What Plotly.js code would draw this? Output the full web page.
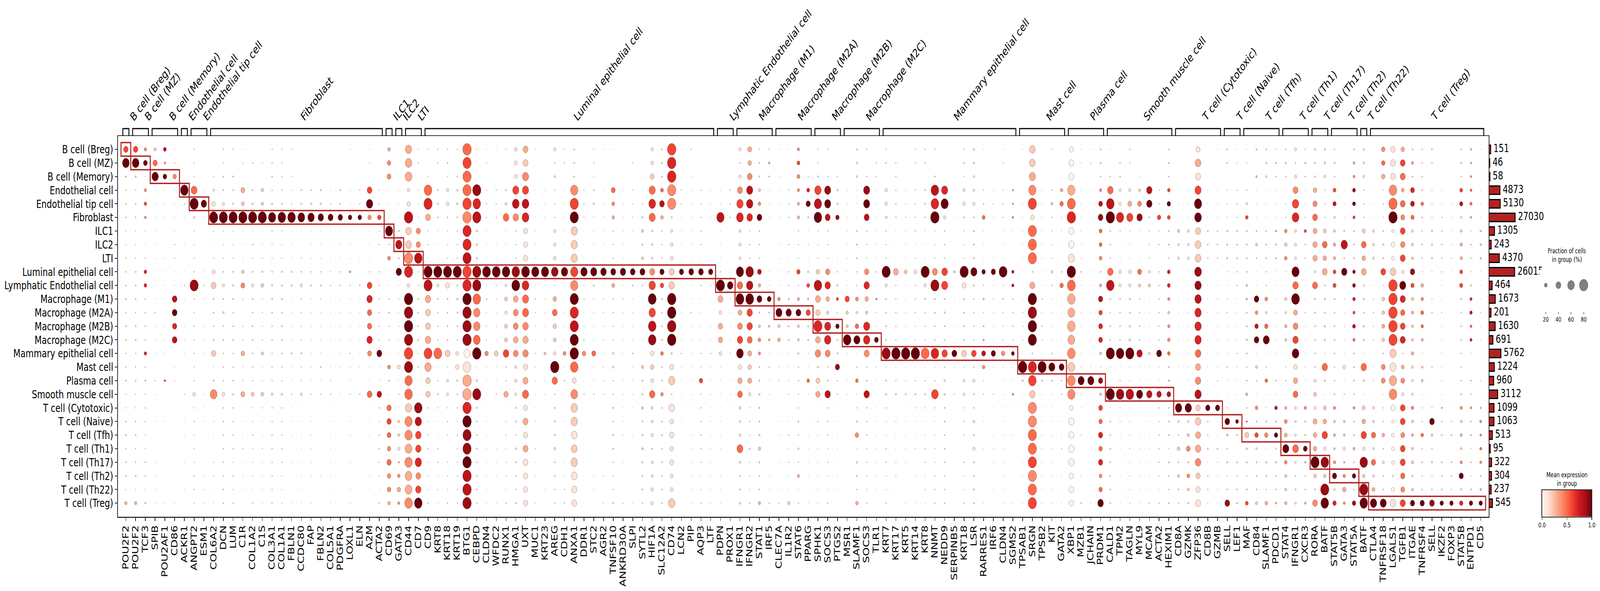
<!DOCTYPE html>
<html>
<head>
<meta charset="utf-8">
<script src="https://cdn.plot.ly/plotly-3.0.1.min.js"></script>
<style>html,body{margin:0;background:#fff;overflow:hidden}</style>
</head>
<body>
<div id="dotplot" style="width:5578px;height:1512px"></div>
<script>
const rowLabels = ["B cell (Breg)","B cell (MZ)","B cell (Memory)","Endothelial cell","Endothelial tip cell","Fibroblast","ILC1","ILC2","LTI","Luminal epithelial cell","Lymphatic Endothelial cell","Macrophage (M1)","Macrophage (M2A)","Macrophage (M2B)","Macrophage (M2C)","Mammary epithelial cell","Mast cell","Plasma cell","Smooth muscle cell","T cell (Cytotoxic)","T cell (Naive)","T cell (Tfh)","T cell (Th1)","T cell (Th17)","T cell (Th2)","T cell (Th22)","T cell (Treg)"];
const cellTotals = [151,46,58,4873,5130,27030,1305,243,4370,26015,464,1673,201,1630,691,5762,1224,960,3112,1099,1063,513,95,322,304,237,545];
// how many marker genes each cell type has, same order as rowLabels
const groupSizes = [1,2,3,1,2,18,1,1,2,30,2,4,4,3,4,14,5,4,7,5,2,4,3,2,3,1,12];
const genes = ["POU2F2","POU2F2","TCF3","SPIB","POU2AF1","CD86","ACKR1","ANGPT2","ESM1","COL6A2","DCN","LUM","C1R","COL1A2","C1S","COL3A1","COL1A1","FBLN1","CCDC80","FAP","FBLN2","COL5A1","PDGFRA","LOXL1","ELN","A2M","ACTA2","CD69","GATA3","CD44","CD7","CD9","KRT8","KRT18","KRT19","BTG1","CEBPD","CLDN4","WFDC2","RUNX1","HMGA1","UXT","MUC1","KRT23","AREG","CDH1","ANXA1","DDR1","STC2","AGR2","TNFSF10","ANKRD30A","SLPI","SYTL2","HIF1A","SLC12A2","CD74","LCN2","PIP","AQP3","LTF","PDPN","PROX1","IFNGR1","IFNGR2","STAT1","IRF5","CLEC7A","IL1R2","STAT6","PPARG","SPHK1","SOCS3","PTGS2","MSR1","SLAMF1","SOCS3","TLR1","KRT7","KRT17","KRT5","KRT14","KRT8","NNMT","NEDD9","SERPINB5","KRT18","LSR","RARRES1","IRF6","CLDN4","SGMS2","TPSAB1","SRGN","TPSB2","KIT","GATA2","XBP1","MZB1","JCHAIN","PRDM1","CALD1","TPM2","TAGLN","MYL9","MCAM","ACTA2","HEXIM1","CD8A","GZMK","ZFP36","CD8B","GZMB","SELL","LEF1","MAF","CD84","SLAMF1","PDCD1","STAT4","IFNGR1","CXCR3","RORA","BATF","STAT5B","GATA3","STAT5A","BATF","CTLA4","TNFRSF18","LGALS1","TGFB1","ITGAE","TNFRSF4","SELL","IKZF2","FOXP3","STAT5B","ENTPD1","CD5"];

// percent of cells expressing, one array per distinct gene (first-seen order), 27 rows each
const fractions = [
[35,60,6,3,4,4,2,2,3,4,4,5,3,5,5,3,3,5,2,2,4,5,3,4,5,2,14], //POU2F2
[16,29,1,14,16,11,2,1,3,18,18,4,4,4,4,16,3,5,3,3,3,2,2,4,4,2,6], //TCF3
[14,33,56,1,1,1,1,1,1,1,1,1,3,1,1,1,0,3,1,0,1,0,0,1,1,1,1], //SPIB
[20,9,27,1,1,1,0,0,1,1,1,1,0,1,1,1,0,9,0,0,1,0,0,0,0,0,1], //POU2AF1
[1,3,25,1,1,1,1,3,2,1,1,38,38,33,38,0,1,2,0,0,0,0,0,0,0,0,1], //CD86
[0,0,0,70,3,1,0,1,0,1,3,1,0,1,1,1,0,0,2,0,1,1,0,1,0,1,0], //ACKR1
[3,2,2,50,77,8,2,2,2,3,77,3,2,3,3,3,2,3,18,2,3,2,2,2,3,3,2], //ANGPT2
[0,0,0,1,45,1,0,0,0,1,3,1,0,1,1,1,0,0,1,1,1,0,0,0,1,2,1], //ESM1
[0,0,2,9,25,77,2,1,2,20,38,5,5,4,5,33,1,5,60,1,2,1,0,2,2,1,1], //COL6A2
[3,2,5,5,14,77,2,2,2,4,14,5,8,4,5,3,3,3,18,3,4,3,3,3,3,4,4], //DCN
[3,0,5,4,6,77,2,2,2,5,7,5,3,5,5,3,3,4,7,3,3,3,3,2,4,2,3], //LUM
[1,2,0,29,20,77,1,1,1,16,29,2,0,2,2,25,1,2,29,1,1,1,2,1,1,1,0], //C1R
[0,4,0,5,8,77,2,4,2,5,14,5,4,5,5,4,3,3,20,2,2,4,2,2,2,1,3], //COL1A2
[0,2,0,16,14,77,1,1,2,7,18,2,2,2,3,14,1,2,18,2,1,1,2,1,1,1,1], //C1S
[3,3,6,3,7,66,3,2,2,4,6,6,5,4,4,3,3,3,11,3,3,3,3,3,3,3,3], //COL3A1
[3,3,3,3,4,70,2,2,2,6,6,6,4,5,5,4,3,3,9,3,3,3,3,3,2,2,2], //COL1A1
[2,0,2,2,3,70,1,1,1,6,7,1,1,1,1,6,1,1,3,1,1,1,0,1,0,0,1], //FBLN1
[0,0,0,5,6,60,1,0,2,4,14,3,2,2,2,6,2,2,12,1,1,1,1,1,1,1,1], //CCDC80
[0,0,0,4,8,56,1,1,1,3,5,1,1,1,1,1,1,1,3,0,1,1,1,1,1,0,1], //FAP
[0,0,0,6,8,45,1,1,1,3,5,2,1,1,1,2,5,1,3,0,0,0,0,0,1,0,0], //FBLN2
[0,0,0,1,3,40,1,1,1,2,3,1,1,1,1,1,1,2,3,1,1,1,1,1,1,1,1], //COL5A1
[0,0,0,6,4,35,1,1,1,3,4,1,1,1,1,2,1,0,1,0,0,0,0,0,0,0,0], //PDGFRA
[1,0,0,1,1,26,1,1,1,10,3,1,1,1,1,3,1,1,2,0,1,1,0,1,0,1,1], //LOXL1
[0,0,0,3,3,26,0,0,1,1,4,1,1,1,1,1,1,0,3,0,0,0,0,0,0,0,0], //ELN
[1,2,0,38,56,25,1,1,1,3,38,45,33,33,45,29,1,1,38,1,1,1,0,0,1,1,0], //A2M
[0,0,0,2,3,25,2,3,0,3,3,3,3,3,3,40,1,1,36,3,2,3,3,3,2,1,3], //ACTA2
[18,25,29,1,1,1,66,3,20,1,1,3,5,3,3,1,20,5,1,33,33,29,25,33,25,25,16], //CD69
[0,0,0,1,1,1,7,56,5,45,1,2,1,2,1,1,20,1,3,1,11,11,14,7,16,25,12], //GATA3
[53,56,60,16,23,80,45,47,77,77,16,80,80,80,77,80,77,66,70,53,66,66,60,66,60,60,70], //CD44
[2,3,0,2,2,2,33,33,70,2,2,5,5,4,5,2,4,1,1,70,56,47,45,56,38,45,70], //CD7
[2,0,2,70,77,38,2,3,1,77,77,45,38,38,45,73,56,33,33,3,2,2,3,2,2,2,4], //CD9
[3,3,0,5,6,4,1,1,1,77,14,5,3,3,3,73,1,3,5,2,1,1,3,3,1,2,1], //KRT8
[3,5,2,14,18,5,2,2,2,77,29,6,5,5,5,38,2,12,12,2,3,2,0,3,2,2,3], //KRT18
[3,0,4,8,9,5,3,3,3,77,5,8,5,4,4,20,25,8,4,3,2,3,2,2,2,3,3], //KRT19
[80,77,77,77,80,80,77,77,77,80,80,80,80,80,80,53,70,80,80,80,80,77,77,80,80,80,80], //BTG1
[2,0,0,77,70,77,9,9,9,77,77,70,56,56,60,80,1,9,77,6,4,4,6,4,4,5,3], //CEBPD
[1,2,0,2,3,3,1,1,1,73,2,4,2,2,2,25,1,1,1,1,1,1,1,1,1,1,1], //CLDN4
[1,0,0,3,3,3,0,1,1,73,3,2,1,2,1,28,1,1,3,0,0,0,1,1,1,0,1], //WFDC2
[2,0,0,5,12,47,1,1,1,70,11,20,14,20,20,47,3,3,33,1,2,2,1,2,2,1,3], //RUNX1
[18,20,20,53,60,45,3,3,3,70,73,38,38,38,38,38,12,16,12,6,5,4,7,5,4,3,6], //HMGA1
[40,40,53,53,60,60,29,29,33,73,60,53,53,47,45,45,33,40,53,29,40,33,40,38,33,33,33], //UXT
[1,0,0,1,1,1,1,1,1,66,1,3,2,1,1,3,1,1,1,1,1,0,2,1,1,0,1], //MUC1
[0,0,0,1,1,1,0,0,0,66,1,1,1,1,1,12,0,1,1,0,0,0,0,0,0,1,0], //KRT23
[14,3,8,3,3,3,14,14,18,60,2,25,38,25,20,16,80,45,3,5,5,5,12,5,5,4,3], //AREG
[2,3,0,1,1,1,1,1,1,56,1,1,1,1,1,20,1,4,1,1,1,1,0,1,1,3,3], //CDH1
[5,5,5,66,77,77,53,53,53,66,66,77,77,77,77,80,70,29,60,55,55,48,48,55,48,42,38], //ANXA1
[1,0,0,2,3,2,1,1,1,56,2,3,1,2,3,25,0,1,3,0,0,0,0,1,0,0,0], //DDR1
[2,3,1,4,8,2,1,1,1,53,6,2,1,1,1,29,1,1,3,0,0,0,0,0,1,1,0], //STC2
[1,0,0,1,1,2,1,1,1,47,1,2,2,2,2,2,2,2,2,0,0,0,0,0,2,0,2], //AGR2
[1,0,0,29,20,16,3,3,3,40,20,3,4,3,3,9,9,3,3,6,4,6,5,4,3,3,5], //TNFSF10
[0,0,0,1,1,1,1,1,1,45,1,2,1,1,1,1,0,1,1,1,1,1,0,1,0,0,2], //ANKRD30A
[0,2,0,2,2,2,1,0,0,38,4,1,1,1,1,4,1,1,1,1,0,1,0,0,0,0,1], //SLPI
[0,0,1,1,3,7,12,7,12,40,4,1,1,1,1,1,14,6,6,11,5,6,9,6,5,5,4], //SYTL2
[14,18,29,53,60,53,8,8,8,40,56,73,56,70,70,25,25,20,45,12,12,16,6,12,12,16,16], //HIF1A
[5,6,5,20,38,18,3,3,3,33,25,6,4,5,6,18,4,4,18,4,4,5,4,4,3,4,4], //SLC12A2
[80,80,80,77,77,7,12,18,20,40,45,80,80,80,80,8,29,53,4,45,25,33,25,29,20,20,56], //CD74
[1,0,0,3,3,1,1,1,1,33,1,1,1,1,1,3,1,1,1,1,1,0,0,0,0,0,0], //LCN2
[3,0,1,1,1,1,1,1,1,38,1,1,3,1,1,1,1,1,1,1,0,1,1,1,1,1,1], //PIP
[0,0,0,3,3,3,3,3,1,38,3,1,1,1,1,3,2,25,2,3,3,3,3,3,1,2,3], //AQP3
[0,0,0,1,1,1,0,0,0,33,2,0,0,1,1,3,1,1,1,1,1,1,1,1,1,1,1], //LTF
[0,0,0,1,1,66,1,1,1,3,77,40,16,33,33,18,1,1,1,1,1,1,1,0,1,1,1], //PDPN
[0,0,0,3,3,3,0,0,0,1,47,1,1,1,1,2,0,1,1,1,0,0,0,0,0,0,0], //PROX1
[14,4,14,40,56,60,12,14,12,66,45,73,29,38,45,60,25,33,38,12,9,10,50,9,5,6,9], //IFNGR1
[29,25,38,53,56,47,2,4,3,70,56,73,45,45,40,29,25,29,14,2,3,2,6,2,2,2,4], //IFNGR2
[3,5,5,14,18,38,4,4,3,29,16,40,6,12,18,14,5,6,8,7,5,7,16,6,4,4,14], //STAT1
[3,9,5,1,1,1,0,0,0,1,1,29,6,8,9,1,3,1,1,0,0,0,0,0,1,1,3], //IRF5
[1,0,1,1,1,1,0,1,1,1,1,18,53,14,18,1,1,2,0,0,1,1,0,1,0,1,2], //CLEC7A
[1,0,0,3,3,3,0,3,1,3,3,8,45,7,6,1,1,2,2,0,1,3,1,3,1,1,14], //IL1R2
[14,20,20,14,14,14,3,3,2,25,3,14,40,12,11,8,3,4,3,3,5,3,7,3,14,2,3], //STAT6
[0,0,2,20,33,6,1,2,1,7,20,9,33,6,6,2,1,18,1,1,1,1,1,1,1,1,1], //PPARG
[3,3,6,56,66,70,2,2,2,25,70,40,33,77,38,45,8,29,33,1,3,1,1,1,1,1,1], //SPHK1
[3,0,4,53,53,40,3,3,2,33,45,25,14,53,56,40,3,5,45,3,4,4,2,3,2,2,4], //SOCS3
[0,0,3,7,7,25,0,0,1,3,6,14,3,25,5,6,33,3,4,1,1,1,1,1,1,1,0], //PTGS2
[0,0,0,1,1,1,1,1,1,1,1,33,14,14,70,1,0,1,1,0,0,0,0,0,0,0,0], //MSR1
[5,8,8,1,1,1,5,5,5,3,3,20,11,25,53,1,3,18,1,2,6,25,1,8,6,3,18], //SLAMF1
[0,3,3,1,1,1,1,1,1,4,1,8,2,2,29,1,2,1,0,1,1,1,1,1,1,1,0], //TLR1
[3,4,0,16,16,12,3,3,3,77,14,5,4,5,5,77,1,5,8,3,2,1,3,3,2,2,3], //KRT7
[0,3,3,3,4,4,1,1,1,38,3,3,3,3,3,80,1,3,7,1,2,1,1,2,2,1,0], //KRT17
[0,0,0,1,2,3,1,1,1,20,1,1,1,1,1,80,1,2,5,1,1,1,1,1,0,0,1], //KRT5
[2,3,0,3,3,3,3,1,2,20,3,3,3,2,2,80,1,3,6,2,1,1,2,0,1,0,1], //KRT14
[3,0,5,70,70,80,2,2,2,40,77,6,5,4,4,70,1,3,60,2,1,1,2,2,3,3,3], //NNMT
[0,0,0,53,66,14,3,3,3,47,53,5,7,5,4,45,3,8,8,5,5,4,5,4,3,3,4], //NEDD9
[0,0,0,1,0,1,0,0,0,9,0,1,0,1,0,40,1,0,2,0,0,0,0,0,0,0,0], //SERPINB5
[8,8,8,9,14,5,6,6,6,53,6,3,3,3,3,38,3,14,5,4,12,6,14,6,5,7,6], //LSR
[1,0,0,3,4,20,1,1,1,25,3,8,2,5,8,29,18,2,3,0,1,0,1,0,0,0,1], //RARRES1
[0,0,0,1,2,1,0,0,1,33,1,2,1,1,1,33,1,0,2,1,0,1,1,1,0,1,0], //IRF6
[0,0,0,7,7,8,1,0,0,14,14,3,3,4,3,20,1,1,8,1,0,1,0,0,0,0,1], //SGMS2
[1,0,0,0,1,1,1,1,1,1,0,1,2,2,2,1,80,8,1,1,0,0,0,1,1,0,1], //TPSAB1
[47,47,53,66,77,25,77,77,77,5,40,80,80,80,77,4,77,70,45,77,77,77,77,77,77,77,77], //SRGN
[0,0,0,1,1,1,1,1,1,1,1,3,1,3,2,1,77,6,1,1,1,1,1,1,1,1,1], //TPSB2
[2,0,0,3,12,3,2,2,2,12,4,1,1,1,1,4,53,6,1,1,1,1,1,1,1,1,1], //KIT
[0,0,0,18,25,2,1,1,1,4,25,1,1,1,1,1,40,4,3,0,1,1,2,0,1,1,1], //GATA2
[29,38,40,66,73,80,40,45,53,80,73,70,60,70,60,70,60,70,66,25,45,40,45,45,33,38,33], //XBP1
[1,1,0,1,1,1,1,1,1,4,1,0,1,1,0,1,1,53,1,1,0,2,0,0,1,0,4], //MZB1
[1,2,0,1,1,1,0,0,0,1,1,0,1,1,1,1,1,53,1,0,0,0,0,0,0,0,1], //JCHAIN
[6,6,4,14,29,38,20,20,20,5,14,33,25,29,29,12,2,33,12,29,25,33,25,33,20,25,47], //PRDM1
[1,0,4,47,70,80,4,4,4,45,70,5,3,4,4,77,1,1,77,1,5,4,6,4,4,4,4], //CALD1
[0,4,5,12,18,66,2,1,1,18,14,5,4,5,4,70,1,3,70,3,2,1,1,1,1,1,1], //TPM2
[4,3,0,14,29,53,2,1,1,18,14,8,5,8,12,77,1,2,70,2,2,2,2,1,2,2,2], //TAGLN
[0,0,1,12,29,45,1,0,1,29,14,4,3,4,4,45,1,1,53,1,0,1,1,1,1,1,1], //MYL9
[0,0,0,45,45,5,2,2,2,12,14,1,1,1,1,12,1,1,45,1,1,1,1,1,1,1,3], //MCAM
[4,6,4,18,25,20,5,5,4,20,20,14,12,14,18,18,6,7,29,5,4,5,2,6,4,3,5], //HEXIM1
[0,0,0,1,1,1,14,9,12,1,0,1,1,1,1,1,1,1,0,56,9,4,18,5,12,5,3], //CD8A
[0,0,0,1,1,1,12,9,12,1,1,1,1,1,1,1,1,1,1,56,9,14,29,6,20,12,6], //GZMK
[29,47,40,53,66,60,40,48,48,60,56,56,56,56,56,47,40,45,56,33,45,40,45,47,33,33,40], //ZFP36
[0,0,0,1,1,1,5,4,4,1,1,1,2,1,1,1,1,1,1,33,4,3,6,2,3,3,2], //CD8B
[1,0,0,1,1,1,4,4,4,1,1,2,1,1,1,1,1,3,1,33,1,1,6,2,1,2,1], //GZMB
[5,4,0,2,2,2,7,7,7,2,1,2,3,1,1,1,3,1,1,3,38,9,3,6,2,5,38], //SELL
[1,2,0,3,4,3,5,5,5,3,3,1,1,1,1,3,1,1,1,1,20,5,0,5,3,5,6], //LEF1
[1,2,0,3,8,18,6,6,5,5,8,8,5,6,7,5,3,5,12,4,5,29,8,6,3,6,20], //MAF
[7,0,8,1,1,1,6,12,5,1,1,38,18,25,38,1,12,4,1,18,5,25,8,6,5,5,14], //CD84
[2,5,4,1,1,1,8,6,6,1,1,1,1,1,1,1,0,4,1,18,5,25,4,6,4,4,8], //PDCD1
[4,8,4,1,2,3,18,16,18,2,1,14,9,14,12,1,2,4,1,14,20,20,53,18,14,12,14], //STAT4
[3,7,5,1,1,3,14,4,4,1,1,1,3,1,1,1,2,1,1,14,6,6,29,8,4,4,9], //CXCR3
[8,6,6,25,33,38,29,33,33,9,40,6,6,5,5,4,4,14,20,14,29,25,25,77,18,6,38], //RORA
[8,9,12,3,3,3,20,38,25,38,5,8,5,8,7,2,45,8,1,20,25,45,16,70,16,77,70], //BATF
[4,8,4,20,23,9,11,16,14,20,22,6,4,5,5,4,3,4,5,14,11,12,9,14,33,9,25], //STAT5B
[6,12,12,20,20,14,5,4,5,18,20,18,14,20,14,5,5,4,4,12,5,5,12,5,25,4,25], //STAT5A
[0,0,0,1,1,1,12,12,12,1,1,2,3,2,2,1,1,2,1,12,12,33,10,33,12,20,56], //CTLA4
[25,25,25,2,3,2,5,7,5,38,2,18,18,20,18,4,29,29,1,2,3,18,4,12,4,4,53], //TNFRSF18
[33,40,38,70,77,80,14,25,18,47,80,80,80,80,77,53,53,66,70,33,14,18,20,18,9,20,47], //LGALS1
[25,38,40,20,38,29,38,33,40,14,53,42,33,38,42,4,20,29,14,38,38,29,38,40,33,29,42], //TGFB1
[5,14,5,29,29,23,12,12,12,35,23,14,14,12,12,16,12,10,10,16,12,12,12,14,7,12,33], //ITGAE
[4,4,4,5,18,5,3,4,4,2,18,16,20,16,12,2,10,12,1,2,3,18,3,6,3,4,33], //TNFRSF4
[0,0,0,1,1,3,4,4,4,3,1,1,2,1,1,2,1,2,1,6,4,5,0,6,4,5,25], //IKZF2
[0,0,0,0,1,1,1,2,2,1,0,0,0,0,0,0,0,0,0,1,3,5,0,5,4,3,25], //FOXP3
[8,8,9,12,14,9,2,5,4,2,6,14,16,12,14,2,0,5,4,9,4,6,2,5,2,6,25], //ENTPD1
[1,0,0,1,1,1,8,8,8,1,1,1,2,1,1,0,0,2,0,8,12,10,12,12,5,9,25] //CD5
];

// mean expression x10 as row,value pairs for each distinct gene, rows not listed are pale (1)
const means = [
[0,6,1,10,2,2,26,3], //POU2F2
[0,4,1,10,3,4,4,6,5,4,9,7,10,7,15,7,17,2,26,2], //TCF3
[0,2,1,5,2,10], //SPIB
[0,8,1,4,2,10,17,6], //POU2AF1
[2,4,11,8,12,10,13,7,14,8], //CD86
[3,10], //ACKR1
[3,5,4,10,10,9], //ANGPT2
[4,10], //ESM1
[5,10,10,2,15,2,18,4], //COL6A2
[5,10], //DCN
[5,10], //LUM
[3,3,4,2,5,10,9,2,10,4,15,3,18,3], //C1R
[5,10,18,2], //COL1A2
[3,2,4,2,5,10,10,2,15,2,18,2], //C1S
[5,10], //COL3A1
[5,10], //COL1A1
[5,10], //FBLN1
[5,10], //CCDC80
[5,10], //FAP
[5,10], //FBLN2
[5,10], //COL5A1
[5,10], //PDGFRA
[5,10,9,3], //LOXL1
[5,10], //ELN
[3,6,4,10,5,4,10,6,11,7,12,5,13,5,14,7,15,4,18,5], //A2M
[5,6,15,10,18,8], //ACTA2
[0,3,1,4,2,4,6,10,8,4,16,4,19,5,20,6,21,5,22,4,23,5,24,4,25,4,26,3], //CD69
[7,8,9,10,15,4,19,2,20,2,21,2,23,3,24,4,25,3,26,4], //GATA3
[0,3,1,3,2,3,3,1,4,1,5,8,6,2,7,2,8,4,9,7,10,1,11,10,12,9,13,10,14,9,15,6,16,9,17,5,18,5,19,2,20,4,21,4,22,3,23,4,24,3,25,3,26,4], //CD44
[6,4,7,4,8,8,19,9,20,8,21,6,22,6,23,7,24,4,25,6,26,10], //CD7
[3,5,4,7,5,3,9,10,10,8,11,3,12,2,13,2,14,3,15,6,16,3,17,2,18,2], //CD9
[9,10,15,5], //KRT8
[9,10,15,2], //KRT18
[9,10], //KRT19
[0,5,1,6,2,5,3,5,4,6,5,4,6,7,7,7,8,8,9,6,10,7,11,10,12,9,13,9,14,9,15,0,17,3,18,3,19,7,20,10,21,9,22,9,23,10,24,8,25,8,26,9], //BTG1
[3,9,4,7,5,8,9,9,10,9,11,5,12,4,13,4,14,5,15,10,18,9], //CEBPD
[9,10,15,4], //CLDN4
[9,10,15,2], //WFDC2
[5,5,9,10,11,2,13,2,14,2,15,6,18,3], //RUNX1
[3,6,4,8,5,4,9,9,10,10,11,3,12,4,13,4,14,3,15,4], //HMGA1
[0,3,1,2,2,4,3,6,4,8,5,7,9,10,10,7,11,5,12,5,13,4,14,3,15,4,17,3,18,5,20,3,22,3], //UXT
[9,10], //MUC1
[9,10,15,2], //KRT23
[9,9,11,3,12,5,13,2,14,2,16,10,17,5], //AREG
[9,10,15,4], //CDH1
[3,4,4,6,5,10,6,2,7,2,8,2,9,6,10,4,11,10,12,7,13,8,14,10,15,10,16,5,18,4,19,2,20,2,22,2,23,2], //ANXA1
[9,10,15,4], //DDR1
[9,10,15,5], //STC2
[9,10], //AGR2
[3,5,4,4,5,3,9,10,10,3], //TNFSF10
[9,10], //ANKRD30A
[9,10], //SLPI
[6,2,8,2,9,10,16,2,19,2,22,2], //SYTL2
[2,2,3,5,4,7,5,5,9,4,10,6,11,10,12,6,13,8,14,9,16,2,18,5], //HIF1A
[3,5,4,8,5,3,9,10,10,6,15,5,18,4], //SLC12A2
[0,6,1,7,2,7,3,4,4,4,9,2,10,2,11,10,12,10,13,9,14,10,17,2,26,2], //CD74
[9,10], //LCN2
[9,10], //PIP
[9,10,17,6], //AQP3
[9,10], //LTF
[5,8,10,10,11,3,13,3,14,3], //PDPN
[10,10], //PROX1
[3,4,4,6,5,7,9,10,10,5,11,10,12,3,13,4,14,6,15,10,17,3,18,5,22,5], //IFNGR1
[0,3,1,3,2,4,3,8,4,8,5,7,9,9,10,8,11,10,12,6,13,6,14,5,15,3,16,2,17,3], //IFNGR2
[3,2,4,4,5,10,9,8,10,3,11,10,13,2,14,4,15,4,22,2,26,3], //STAT1
[1,3,11,10,13,3,14,3], //IRF5
[11,4,12,10,13,2,14,3], //CLEC7A
[12,10,26,2], //IL1R2
[0,4,1,6,2,4,3,4,4,3,5,3,9,6,11,3,12,10,13,2,14,2,24,3], //STAT6
[3,7,4,10,10,6,11,2,12,6,17,5], //PPARG
[3,6,4,8,5,10,9,2,10,8,11,3,12,2,13,7,14,3,15,4,17,2,18,3], //SPHK1
[3,9,4,10,5,8,9,4,10,7,11,3,12,2,13,7,14,7,15,4,18,8], //SOCS3
[3,2,5,9,10,2,11,6,13,10,16,9], //PTGS2
[11,6,12,2,13,2,14,10], //MSR1
[11,4,13,5,14,10,17,5,21,4,26,3], //SLAMF1
[11,4,14,10], //TLR1
[9,10,15,9], //KRT7
[9,3,15,10], //KRT17
[9,2,15,10], //KRT5
[15,10], //KRT14
[3,8,4,7,5,10,9,4,10,9,15,7,18,6], //NNMT
[3,7,4,10,9,6,10,6,15,6], //NEDD9
[9,2,15,10], //SERPINB5
[9,10,15,6], //LSR
[5,5,9,10,11,2,13,2,14,3,15,8,16,4], //RARRES1
[9,10,15,10], //IRF6
[3,4,4,4,5,5,9,8,10,8,15,10,18,5], //SGMS2
[16,10], //TPSAB1
[0,2,1,2,2,3,3,4,4,6,6,5,7,5,8,5,10,3,11,10,12,9,13,10,14,10,16,7,17,6,18,2,19,4,20,4,21,5,22,5,23,6,24,4,25,5,26,6], //SRGN
[16,10], //TPSB2
[4,2,16,10], //KIT
[3,3,4,5,10,5,16,10], //GATA2
[0,0,1,0,2,0,3,3,4,5,5,7,6,0,7,0,9,10,10,5,11,3,12,3,13,3,14,3,15,4,16,2,17,4,18,4,19,0,20,0,21,0,22,0,23,0,24,0,25,0,26,0], //XBP1
[17,10], //MZB1
[17,10], //JCHAIN
[3,4,4,8,5,9,6,5,7,5,8,4,10,3,11,8,12,6,13,7,14,7,15,2,17,9,18,2,19,6,20,5,21,7,22,5,23,7,24,4,25,5,26,10], //PRDM1
[3,5,4,8,5,10,9,5,10,8,15,10,18,10], //CALD1
[5,7,15,10,18,9], //TPM2
[4,3,5,6,15,10,18,8], //TAGLN
[3,2,4,4,5,9,9,5,10,2,15,8,18,10], //MYL9
[3,8,4,10,10,2,18,8], //MCAM
[3,6,4,10,5,6,9,7,10,7,11,4,12,2,13,4,14,4,15,5,17,2,18,8], //HEXIM1
[6,2,19,10,22,2,24,2], //CD8A
[19,10,21,2,22,4,24,4,25,2], //GZMK
[1,3,3,6,4,10,5,10,6,2,7,2,8,2,9,9,10,9,11,8,12,7,13,7,14,7,15,5,16,3,17,4,18,8,19,2,20,2,21,3,22,3,23,4,24,2], //ZFP36
[19,10], //CD8B
[19,10], //GZMB
[20,10,21,2,23,2,26,9], //SELL
[20,10,23,2,26,2], //LEF1
[4,2,5,6,10,3,11,3,14,2,18,3,20,10,21,2,22,2,26,6], //MAF
[2,3,7,2,11,10,12,4,13,8,14,10,16,2,19,4,21,6,26,2], //CD84
[1,2,6,3,7,2,8,2,19,8,20,2,21,10,23,2,26,3], //PDCD1
[6,4,7,2,8,4,11,2,13,3,14,2,19,3,20,4,21,3,22,10,23,4,24,2,25,2,26,3], //STAT4
[1,2,6,6,19,4,22,10,23,2,26,3], //CXCR3
[3,3,4,4,5,5,6,3,7,3,8,3,10,5,18,2,20,3,21,3,22,3,23,10,24,2,26,4], //RORA
[6,2,7,5,8,3,9,3,16,5,19,2,20,3,21,6,23,9,24,2,25,9,26,10], //BATF
[3,6,4,8,6,2,7,3,8,3,9,6,10,6,19,4,20,2,21,3,22,2,23,4,24,10,26,7], //STAT5B
[1,3,2,4,3,9,4,10,5,6,9,9,10,9,11,7,12,6,13,8,14,5,19,4,22,3,24,10,26,9], //STAT5A
[21,5,23,5,25,3,26,10], //CTLA4
[0,4,1,5,2,3,9,6,11,2,12,2,13,3,14,2,16,4,17,4,21,3,26,10], //TNFRSF18
[3,4,4,5,5,10,6,0,7,0,8,0,9,2,10,6,11,6,12,6,13,6,14,6,15,2,17,3,18,4,19,0,20,0,21,0,22,0,23,0,24,0,25,0], //LGALS1
[0,3,1,6,2,5,3,3,4,5,5,4,6,6,7,4,8,6,10,10,11,7,12,5,13,6,14,7,16,3,17,4,19,6,20,6,21,4,22,6,23,6,24,5,25,4,26,6], //TGFB1
[1,3,3,7,4,8,5,5,7,2,8,2,9,9,10,6,11,2,12,3,13,2,14,2,15,3,19,4,20,2,21,3,22,2,23,2,25,2,26,10], //ITGAE
[4,5,10,3,11,4,12,5,13,5,14,3,16,2,17,2,21,5,26,10], //TNFRSF4
[19,3,26,10], //IKZF2
[26,10], //FOXP3
[0,3,1,3,2,4,3,5,4,5,5,3,10,2,11,7,12,8,13,5,14,7,19,4,21,2,26,10], //ENTPD1
[6,2,7,2,8,2,19,2,20,4,21,4,22,5,23,4,25,3,26,10] //CD5
];

const legendFractions = [20, 40, 60, 80];
const colorTicks = [0, 0.5, 1];
const colorTickText = ["0.0", "0.5", "1.0"];
const reds = [[0,"#fff5f0"],[0.125,"#fee0d2"],[0.25,"#fcbba1"],[0.375,"#fc9272"],[0.5,"#fb6a4a"],[0.625,"#ef3b2c"],[0.75,"#cb181d"],[0.875,"#a50f15"],[1,"#67000d"]];

const W = 5578, H = 1512;
const plotLeft = 411, plotRight = 5190, plotTop = 348, plotBottom = 1322;
const labelFont = "DejaVu Sans";
const xTickSize = 28.5, yTickSize = 29, groupSize = 29.7;

function px(x) { return x / W; }
function py(y) { return 1 - y / H; }

// scanpy style dot area, grows with fraction^1.5
function dotSize(pct) {
    return Math.sqrt(1258 * Math.pow(pct / 100, 1.5));
}

const uniqueGenes = [...new Set(genes)];
let xs = [], ys = [], sizes = [], colors = [];
genes.forEach(function (gene, col) {
    const g = uniqueGenes.indexOf(gene);
    const meanRow = rowLabels.map(function () { return 1; });
    for (let k = 0; k < means[g].length; k += 2) {
        meanRow[means[g][k]] = means[g][k + 1];
    }
    rowLabels.forEach(function (label, row) {
        const pct = fractions[g][row];
        if (!pct) return;
        xs.push(col);
        ys.push(row);
        sizes.push(dotSize(pct));
        colors.push(meanRow[row] / 10);
    });
});

const shapes = [];
const annotations = [];
let start = 0;
groupSizes.forEach(function (n, i) {
    const end = start + n - 1;
    // red box on the diagonal
    shapes.push({
        type: "rect", xref: "x", yref: "y",
        x0: start - 0.5, x1: end + 0.5, y0: i - 0.5, y1: i + 0.5,
        line: { color: "#b22222", width: 3.5 }
    });
    // bracket above the plot
    const yb = py(plotTop), yt = py(329);
    shapes.push({
        type: "path", xref: "x", yref: "paper",
        path: "M " + (start - 0.31) + " " + yb + " L " + (start - 0.31) + " " + yt + " L " + (end + 0.31) + " " + yt + " L " + (end + 0.31) + " " + yb,
        line: { color: "black", width: 3 }
    });
    annotations.push({
        xref: "x", yref: "paper", x: (start + end) / 2, y: py(319),
        xanchor: "left", yanchor: "bottom", xshift: 5, textangle: -45, showarrow: false,
        text: rowLabels[i], font: { family: labelFont, size: groupSize, color: "black" }
    });
    start = end + 1;
});

// the legend panel sits over the tail of the longest total label
shapes.push({
    type: "rect", xref: "paper", yref: "paper", layer: "above",
    x0: px(5375), x1: px(5410), y0: py(712), y1: py(676),
    fillcolor: "white", line: { width: 0 }
});

annotations.push({
    xref: "paper", yref: "paper", x: px(5462), y: py(653), xanchor: "center", yanchor: "middle",
    showarrow: false, text: "Fraction of cells<br>in group (%)",
    font: { family: labelFont, size: 17, color: "black" }
});
annotations.push({
    xref: "paper", yref: "paper", x: px(5462), y: py(1226), xanchor: "center", yanchor: "middle",
    showarrow: false, text: "Mean expression<br>in group",
    font: { family: labelFont, size: 17, color: "black" }
});

const dots = {
    type: "scatter", mode: "markers", x: xs, y: ys, hoverinfo: "skip",
    marker: {
        size: sizes, sizemode: "diameter", opacity: 1, color: colors, cmin: 0, cmax: 1, colorscale: reds, showscale: false,
        line: { color: "rgba(0,0,0,0.6)", width: 0.7 }
    }
};

const totalsBar = {
    type: "bar", orientation: "h", xaxis: "x2", yaxis: "y", hoverinfo: "skip",
    x: cellTotals.map(Math.sqrt), y: rowLabels.map(function (l, i) { return i; }),
    width: 0.62,
    marker: { color: "#b22222", line: { color: "black", width: 3 } }
};

// invisible markers only keep the numbers a little away from the bar ends
const totalsText = {
    type: "scatter", mode: "markers+text", xaxis: "x2", yaxis: "y", hoverinfo: "skip",
    x: cellTotals.map(Math.sqrt), y: rowLabels.map(function (l, i) { return i; }),
    marker: { size: 14, opacity: 0 }, cliponaxis: false,
    text: cellTotals.map(String), textposition: "middle right",
    textfont: { family: labelFont, size: xTickSize, color: "black" }
};

const sizeLegend = {
    type: "scatter", mode: "markers", xaxis: "x3", yaxis: "y3", hoverinfo: "skip",
    x: legendFractions, y: legendFractions.map(function () { return 0.63; }),
    marker: { size: legendFractions.map(dotSize), opacity: 1, color: "#808080", line: { color: "rgba(0,0,0,0.6)", width: 0.7 } }
};

// colour legend is a small heatmap on its own axes
const rampSteps = [];
for (let i = 0; i <= 128; i++) rampSteps.push(i / 128);
const colorRamp = {
    type: "heatmap", xaxis: "x4", yaxis: "y4", hoverinfo: "skip", showscale: false,
    x: rampSteps, y: [0, 1], z: [rampSteps, rampSteps], zmin: 0, zmax: 1, colorscale: reds
};

const layout = {
    width: W, height: H, showlegend: false, paper_bgcolor: "white", plot_bgcolor: "white",
    margin: { l: 0, r: 0, t: 0, b: 0, autoexpand: false },
    font: { family: labelFont, color: "black" },
    xaxis: {
        domain: [px(plotLeft), px(plotRight)], range: [-0.82, 139.82], zeroline: false, showgrid: false,
        tickmode: "array", tickvals: genes.map(function (g, i) { return i; }), ticktext: genes, tickangle: -90,
        ticks: "outside", ticklen: 8, tickwidth: 2, tickcolor: "#222",
        showline: true, mirror: true, linecolor: "#333", linewidth: 2.5,
        tickfont: { family: labelFont, size: xTickSize, color: "black" }
    },
    yaxis: {
        domain: [py(plotBottom), py(plotTop)], range: [27, -0.98], zeroline: false, showgrid: false,
        tickmode: "array", tickvals: rowLabels.map(function (l, i) { return i; }), ticktext: rowLabels,
        ticks: "outside", ticklen: 8, tickwidth: 2, tickcolor: "#222",
        showline: true, mirror: true, linecolor: "#333", linewidth: 2.5,
        tickfont: { family: labelFont, size: yTickSize, color: "black" }
    },
    xaxis2: { domain: [px(plotRight), px(5375)], range: [0, 330], anchor: "y", visible: false },
    xaxis3: {
        domain: [px(5367), px(5543)], range: [10, 90], anchor: "y3", showgrid: false, zeroline: false, showline: false,
        tickmode: "array", tickvals: legendFractions, ticks: "outside", ticklen: 6, tickwidth: 1.5, tickcolor: "#222",
        tickfont: { family: labelFont, size: 16, color: "black" }
    },
    yaxis3: { domain: [py(797), py(690)], range: [0, 1], anchor: "x3", visible: false },
    xaxis4: {
        domain: [px(5376), px(5549.4)], range: [0, 1], anchor: "y4", showgrid: false, zeroline: false,
        tickmode: "array", tickvals: colorTicks, ticktext: colorTickText, ticks: "outside", ticklen: 6, tickwidth: 1.5, tickcolor: "#222",
        showline: true, mirror: true, linecolor: "#222", linewidth: 2,
        tickfont: { family: labelFont, size: 16, color: "black" }
    },
    yaxis4: {
        domain: [py(1321.5), py(1254)], range: [0, 1], anchor: "x4", showgrid: false, zeroline: false, showticklabels: false, ticks: "",
        showline: true, mirror: true, linecolor: "#222", linewidth: 2
    },
    shapes: shapes,
    annotations: annotations,
    bargap: 0
};

Plotly.newPlot("dotplot", [totalsBar, dots, totalsText, sizeLegend, colorRamp], layout, { displayModeBar: false, staticPlot: true }).then(function () {
    // the browser window can come up narrower than the figure, squeeze it in so nothing gets cut
    const el = document.getElementById("dotplot");
    const fit = Math.min(1, window.innerWidth / W);
    el.style.transformOrigin = "0 0";
    el.style.transform = "scale(" + fit + ",1)";
});
</script>
</body>
</html>
